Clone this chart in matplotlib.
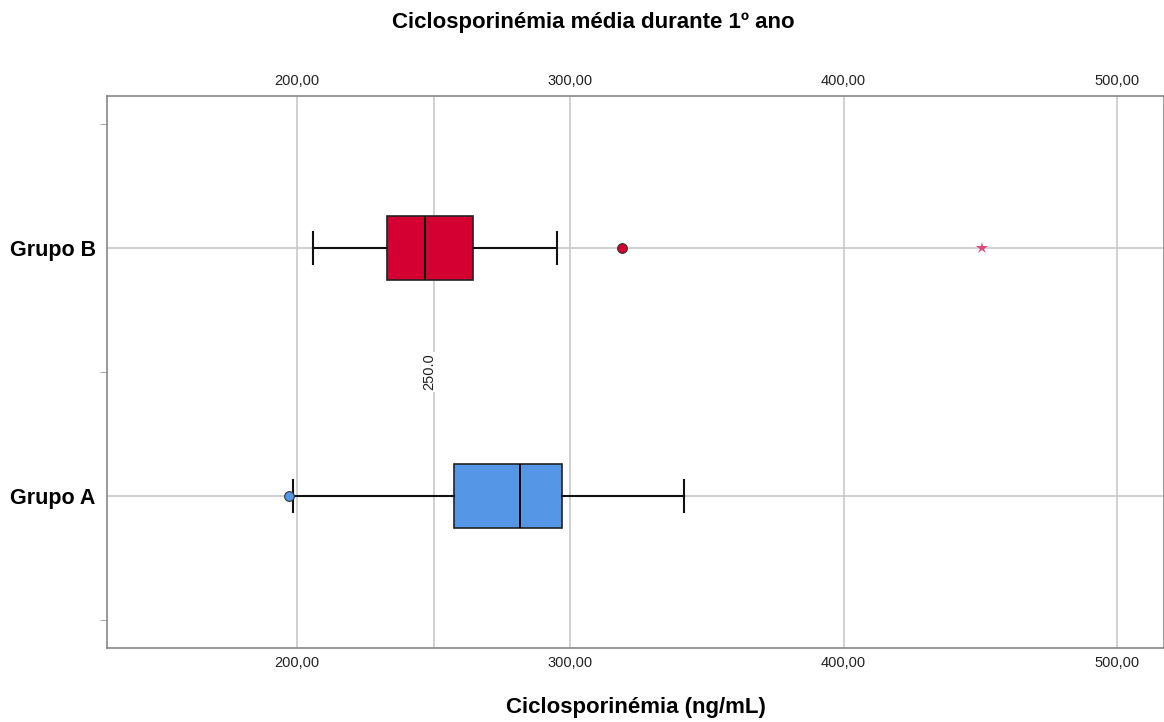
import matplotlib.pyplot as plt

plt.rcParams["font.family"] = ["Liberation Sans", "DejaVu Sans"]

# --- Data ---
groups = ["Grupo A", "Grupo B"]
q1 = [257.3, 232.9]
medians = [281.7, 246.9]
q3 = [296.8, 264.4]
whisk_lo = [198.6, 206.0]
whisk_hi = [341.6, 295.1]
outliers = [[197.1], [318.8]]
extremes = [[], [450.7]]
ref_value = 250.0

colors = ["#5596E6", "#D50032"]
star_color = "#E0457B"

fig = plt.figure(figsize=(11.64, 7.22), dpi=100)
ax = fig.add_axes([0.0919, 0.1025, 0.9081, 0.7645])

stats = []
for i, g in enumerate(groups):
    stats.append(dict(label=g, q1=q1[i], med=medians[i], q3=q3[i],
                      whislo=whisk_lo[i], whishi=whisk_hi[i], fliers=[]))

pos = list(range(len(groups)))
bp = ax.bxp(stats, positions=pos, vert=False, widths=0.255, capwidths=0.13,
            patch_artist=True, showfliers=False, zorder=3,
            boxprops=dict(edgecolor="#222222", linewidth=1.2),
            medianprops=dict(color="black", linewidth=1.4),
            whiskerprops=dict(color="#111111", linewidth=1.5),
            capprops=dict(color="#111111", linewidth=1.5))
for patch, c in zip(bp["boxes"], colors):
    patch.set_facecolor(c)

for i, vals in enumerate(outliers):
    ax.plot(vals, [pos[i]] * len(vals), "o", color=colors[i], markersize=7,
            markeredgecolor="#333333", markeredgewidth=0.8, zorder=4)
for i, vals in enumerate(extremes):
    ax.plot(vals, [pos[i]] * len(vals), "*", color=star_color, markersize=9,
            markeredgewidth=0, zorder=4)

# reference line
ax.axvline(ref_value, color="#c8c8c8", linewidth=1.2, zorder=1)
ax.text(ref_value - 1.5, 0.5, f"{ref_value:.1f}", rotation=90, ha="center",
        va="center", fontsize=10.5, color="#222222", zorder=5,
        bbox=dict(facecolor="white", edgecolor="none", pad=1))

ax.set_xlim(130.5, 517.2)
ax.set_ylim(-0.613, 1.613)

xt = [200, 300, 400, 500]
ax.set_xticks(xt)
ax.set_xticklabels([f"{v:.2f}".replace(".", ",") for v in xt], fontsize=10.5, color="#222222")
ax.tick_params(axis="x", length=0, top=True, labeltop=True, pad=6)
ax.grid(axis="x", color="#c8c8c8", linewidth=1.2, zorder=0)
for y in pos:
    ax.axhline(y, color="#c8c8c8", linewidth=1.2, zorder=0)

ax.set_yticks(pos)
ax.set_yticklabels(groups, fontsize=15.5, fontweight="bold")
ax.set_yticks([-0.5, 0.5, 1.5], minor=True)
ax.tick_params(axis="y", which="major", length=0, pad=8)
ax.tick_params(axis="y", which="minor", length=5, color="#999999")

for s in ax.spines.values():
    s.set_color("#888888")
    s.set_linewidth(1.2)

ax.set_xlabel("Ciclosporinémia (ng/mL)", fontsize=16, fontweight="bold", labelpad=19)
fig.text(0.5095, 0.9695, "Ciclosporinémia média durante 1º ano", ha="center", va="center",
         fontsize=16, fontweight="bold")

fig.savefig("out.png", dpi=100)
